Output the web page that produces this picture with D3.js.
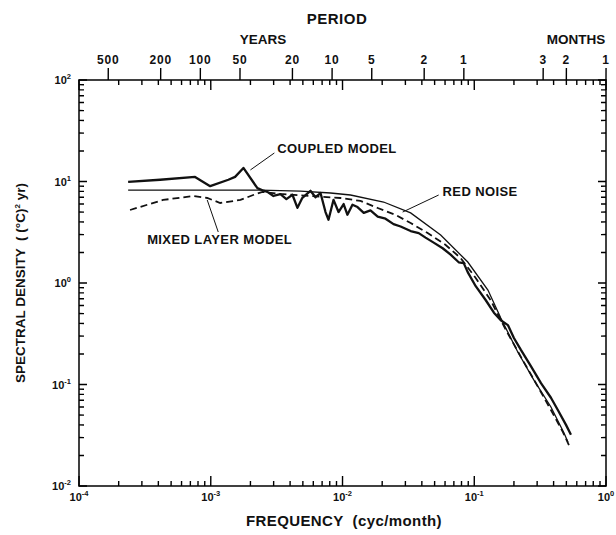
<!DOCTYPE html>
<html>
<head>
<meta charset="utf-8">
<script src="https://cdn.jsdelivr.net/npm/d3@7"></script>
<style>
  body { margin: 0; background: #fff; }
  svg { font-family: "Liberation Sans", Arial, sans-serif; font-weight: bold; }
</style>
</head>
<body>
<svg id="chart" width="616" height="535"></svg>
<script>
// frequency in cyc/month, spectral density in (degC)^2 yr
const coupledFreq = [2.36e-4, 4.13e-4, 7.6e-4, 9.9e-4, 1.36e-3, 1.53e-3, 1.77e-3, 2.26e-3, 2.47e-3, 2.69e-3,
  2.99e-3, 3.38e-3, 3.75e-3, 4.17e-3, 4.55e-3, 4.96e-3, 5.71e-3, 6.24e-3, 6.81e-3, 7.43e-3,
  7.83e-3, 8.55e-3, 9.33e-3, 1.02e-2, 1.09e-2, 1.19e-2, 1.30e-2, 1.45e-2, 1.63e-2, 1.85e-2,
  2.12e-2, 2.44e-2, 2.76e-2, 3.29e-2, 3.79e-2, 4.27e-2, 4.92e-2, 5.76e-2, 6.62e-2, 7.62e-2,
  8.32e-2, 8.92e-2, 0.1026, 0.122, 0.141, 0.159, 0.180, 0.200, 0.226, 0.269,
  0.321, 0.382, 0.431, 0.497, 0.542]
const coupledDensity = [9.9, 10.4, 11.1, 9.0, 10.4, 11.1, 13.6, 8.6, 8.2, 7.9,
  7.2, 7.5, 6.7, 7.4, 5.5, 6.9, 8.1, 7.0, 7.7, 5.0,
  4.2, 6.6, 5.0, 6.0, 4.7, 5.9, 5.6, 4.9, 5.2, 4.5,
  4.3, 3.8, 3.6, 3.25, 3.1, 2.8, 2.5, 2.2, 1.9, 1.6,
  1.57, 1.28, 0.93, 0.68, 0.51, 0.43, 0.385, 0.287, 0.219, 0.152,
  0.103, 0.074, 0.056, 0.040, 0.032]

const mixedFreq = [2.44e-4, 4.35e-4, 7.36e-4, 9.4e-4, 1.18e-3, 1.68e-3, 2.10e-3, 2.47e-3, 3.38e-3, 5.71e-3,
  9.66e-3, 1.37e-2, 1.85e-2, 2.53e-2, 3.29e-2, 4.43e-2, 6.07e-2, 7.89e-2, 0.1026, 0.133,
  0.174, 0.226, 0.294, 0.382, 0.471, 0.523]
const mixedDensity = [5.24, 6.58, 7.2, 6.88, 6.14, 6.58, 7.36, 7.9, 7.54, 7.2,
  6.88, 6.43, 5.48, 4.68, 3.9, 3.11, 2.37, 1.76, 1.12, 0.68,
  0.344, 0.187, 0.103, 0.056, 0.034, 0.0253]

const redFreq = [2.36e-4, 8.32e-4, 2.38e-3, 4.80e-3, 8.11e-3, 1.15e-2, 2.05e-2, 3.29e-2, 5.56e-2, 8.93e-2,
  0.127, 0.159, 0.214, 0.283, 0.382, 0.480, 0.514]
const redDensity = [8.24, 8.24, 8.24, 8.05, 7.7, 7.36, 6.28, 4.9, 2.97, 1.61,
  0.853, 0.452, 0.209, 0.111, 0.060, 0.0333, 0.0271]

// top axis: period
const periodYears = [500, 200, 100, 50, 20, 10, 5, 2, 1]
const periodMonths = [3, 2, 1]

const xDecades = [-4, -3, -2, -1, 0]
const yDecades = [-2, -1, 0, 1, 2]

// label position (freq, density) and leader line [f1, s1, f2, s2]
const notes = [
  { text: 'COUPLED MODEL', f: 3.2e-3, s: 21.4, line: [3.04e-3, 19.1, 2.0e-3, 13.0] },
  { text: 'RED NOISE', f: 0.0575, s: 8.05, line: [0.0537, 7.36, 0.0286, 5.0] },
  { text: 'MIXED LAYER MODEL', f: 3.29e-4, s: 2.71, line: [1.14e-3, 3.18, 9.4e-4, 6.58] }
]

const svg = d3.select('#chart')
const plotLeft = 79, plotRight = 606, plotTop = 80, plotBottom = 486

const x = d3.scaleLog().domain([1e-4, 1]).range([plotLeft, plotRight])
const y = d3.scaleLog().domain([1e-2, 1e2]).range([plotBottom, plotTop])

function minorTicks (lo, hi) {
  const out = []
  for (let e = lo; e < hi; e++) {
    for (let m = 2; m <= 9; m++) out.push(m * Math.pow(10, e))
  }
  return out
}
const xMinor = minorTicks(-4, 0)
const yMinor = minorTicks(-2, 2)
const xMajor = xDecades.map(e => Math.pow(10, e))
const yMajor = yDecades.map(e => Math.pow(10, e))
const periodFreq = periodYears.map(p => 1 / (12 * p)).concat(periodMonths.map(p => 1 / p))
const periodLabels = periodYears.concat(periodMonths)

svg.append('rect')
  .attr('x', plotLeft).attr('y', plotTop)
  .attr('width', plotRight - plotLeft).attr('height', plotBottom - plotTop)
  .attr('fill', 'none').attr('stroke', '#111').attr('stroke-width', 1.6)

// curves
const line = d3.line().x(d => x(d[0])).y(d => y(d[1]))
svg.append('path').datum(d3.zip(redFreq, redDensity))
  .attr('d', line).attr('fill', 'none').attr('stroke', '#111').attr('stroke-width', 1.3)
svg.append('path').datum(d3.zip(mixedFreq, mixedDensity))
  .attr('d', line).attr('fill', 'none').attr('stroke', '#111').attr('stroke-width', 1.8)
  .attr('stroke-dasharray', '7,4')
svg.append('path').datum(d3.zip(coupledFreq, coupledDensity))
  .attr('d', line).attr('fill', 'none').attr('stroke', '#111').attr('stroke-width', 2.3)
  .attr('stroke-linejoin', 'round')

// annotations
notes.forEach(n => {
  svg.append('line')
    .attr('x1', x(n.line[0])).attr('y1', y(n.line[1]))
    .attr('x2', x(n.line[2])).attr('y2', y(n.line[3]))
    .attr('stroke', '#111').attr('stroke-width', 1)
  svg.append('text').attr('x', x(n.f)).attr('y', y(n.s) + 5)
    .attr('font-size', 13).attr('letter-spacing', 0.4).attr('fill', '#111').text(n.text)
})

// decade labels
function powerLabel (sel, e) {
  sel.append('tspan').text('10')
  sel.append('tspan').text(e < 0 ? '-' + (-e) : String(e))
    .attr('font-size', 7.5).attr('dy', -5)
}
xDecades.forEach(e => {
  const t = svg.append('text').attr('x', x(Math.pow(10, e))).attr('y', 501)
    .attr('text-anchor', 'middle').attr('font-size', 11).attr('fill', '#111')
  powerLabel(t, e)
})
yDecades.forEach(e => {
  const t = svg.append('text').attr('x', 71).attr('y', y(Math.pow(10, e)) + 4)
    .attr('text-anchor', 'end').attr('font-size', 11).attr('fill', '#111')
  powerLabel(t, e)
})

// period labels
periodFreq.forEach((f, i) => {
  svg.append('text').attr('x', x(f)).attr('y', 64)
    .attr('text-anchor', 'middle').attr('font-size', 12).attr('letter-spacing', 0.8)
    .attr('fill', '#111').text(periodLabels[i])
})

// titles
svg.append('text').attr('x', 337).attr('y', 24).attr('text-anchor', 'middle')
  .attr('font-size', 15).attr('letter-spacing', 0.5).attr('fill', '#111').text('PERIOD')
svg.append('text').attr('x', 263).attr('y', 44).attr('text-anchor', 'middle')
  .attr('font-size', 13.5).attr('fill', '#111').text('YEARS')
svg.append('text').attr('x', 576).attr('y', 44).attr('text-anchor', 'middle')
  .attr('font-size', 13.5).attr('fill', '#111').text('MONTHS')
svg.append('text').attr('x', 344).attr('y', 526).attr('text-anchor', 'middle')
  .attr('font-size', 15).attr('letter-spacing', 0.4).attr('fill', '#111')
  .attr('xml:space', 'preserve')
  .text('FREQUENCY  (cyc/month)')

const yl = svg.append('text').attr('transform', 'translate(25,283) rotate(-90)')
  .attr('text-anchor', 'middle').attr('font-size', 13.5).attr('fill', '#111')
  .attr('xml:space', 'preserve')
yl.append('tspan').text('SPECTRAL DENSITY  ( (°C)')
yl.append('tspan').text('2').attr('font-size', 8).attr('dy', -5)
yl.append('tspan').text(' yr)').attr('dy', 5)

// ticks: one path per set, each mark a short stroke
function xTicks (values, y0, len) {
  const p = d3.path()
  values.forEach(v => { p.moveTo(x(v), y0); p.lineTo(x(v) + 0.05, y0 + len) })
  svg.append('path').attr('d', p.toString()).attr('fill', 'none')
    .attr('stroke', '#000').attr('stroke-width', 1.4).attr('stroke-linecap', 'butt')
}
function yTicks (values, x0, len) {
  const p = d3.path()
  values.forEach(v => { p.moveTo(x0, y(v)); p.lineTo(x0 + len, y(v) + 0.05) })
  svg.append('path').attr('d', p.toString()).attr('fill', 'none')
    .attr('stroke', '#000').attr('stroke-width', 1.4).attr('stroke-linecap', 'butt')
}
xTicks(xMinor, plotBottom, -5)
xTicks(xMajor, plotBottom, -10)
xTicks(xMinor, plotTop, 5)
xTicks(xMajor, plotTop, 10)
yTicks(yMinor, plotLeft, 5)
yTicks(yMajor, plotLeft, 8)
yTicks(yMinor, plotRight, -5)
yTicks(yMajor, plotRight, -8)
xTicks(periodFreq, plotTop, -12)
</script>
</body>
</html>
